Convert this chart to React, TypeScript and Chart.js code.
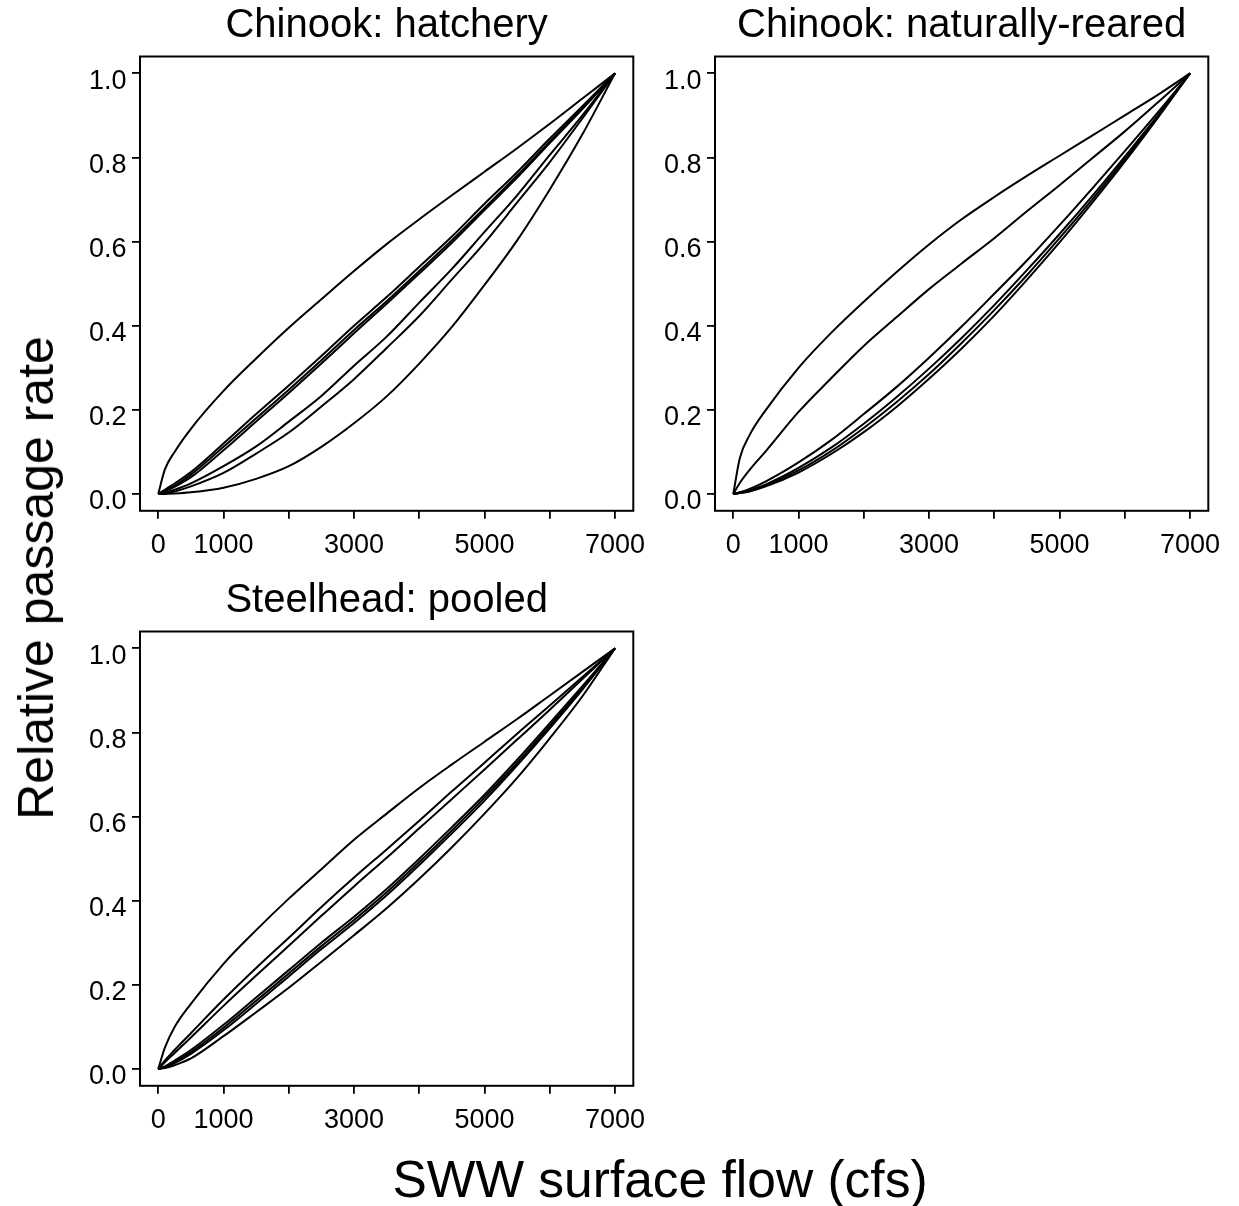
import React, { useEffect, useRef } from "react";
import { Chart, registerables } from "chart.js";

Chart.register(...registerables);

const FONT = "'Liberation Sans', Arial, Helvetica, sans-serif";

// x grid (SWW surface flow, cfs) shared by all curves
const flowCfs = [0, 100, 250, 500, 1000, 1500, 2000, 2500, 3000, 3500, 4000, 4500, 5000, 5500, 6000, 6500, 7000];
const xTickValues = [0, 1000, 2000, 3000, 4000, 5000, 6000, 7000];
const xTickLabels = [0, 1000, 3000, 5000, 7000];
const yTickValues = [0, 0.2, 0.4, 0.6, 0.8, 1.0];

// Chinook: hatchery
const hatchA = [0, 0.058, 0.1, 0.155, 0.245, 0.322, 0.395, 0.463, 0.53, 0.594, 0.653, 0.71, 0.766, 0.822, 0.88, 0.94, 1];
const hatchB1 = [0, 0.01, 0.025, 0.052, 0.12, 0.19, 0.258, 0.328, 0.4, 0.468, 0.54, 0.612, 0.69, 0.765, 0.845, 0.922, 1];
const hatchB2 = [0, 0.008, 0.02, 0.046, 0.112, 0.18, 0.248, 0.318, 0.39, 0.458, 0.53, 0.603, 0.68, 0.757, 0.838, 0.918, 1];
const hatchB3 = [0, 0.006, 0.017, 0.04, 0.104, 0.172, 0.24, 0.31, 0.382, 0.452, 0.524, 0.597, 0.675, 0.752, 0.834, 0.915, 1];
const hatchD = [0, 0.003, 0.01, 0.025, 0.066, 0.113, 0.172, 0.233, 0.305, 0.374, 0.455, 0.535, 0.623, 0.71, 0.806, 0.9, 1];
const hatchE = [0, 0.002, 0.006, 0.018, 0.05, 0.096, 0.146, 0.208, 0.273, 0.347, 0.423, 0.51, 0.597, 0.693, 0.789, 0.893, 1];
const hatchF = [0, 0, 0.001, 0.004, 0.015, 0.036, 0.066, 0.112, 0.168, 0.232, 0.31, 0.397, 0.497, 0.603, 0.724, 0.855, 1];

// Chinook: naturally-reared
const natT = [0, 0.085, 0.14, 0.2, 0.3, 0.383, 0.457, 0.527, 0.593, 0.653, 0.706, 0.756, 0.804, 0.852, 0.9, 0.948, 1];
const natS = [0, 0.026, 0.057, 0.102, 0.195, 0.275, 0.352, 0.42, 0.487, 0.548, 0.608, 0.672, 0.734, 0.798, 0.862, 0.93, 1];
const natL1 = [0, 0.004, 0.012, 0.03, 0.075, 0.128, 0.19, 0.254, 0.324, 0.398, 0.476, 0.555, 0.639, 0.726, 0.815, 0.906, 1];
const natL2 = [0, 0.003, 0.009, 0.023, 0.062, 0.11, 0.167, 0.23, 0.298, 0.371, 0.449, 0.532, 0.618, 0.708, 0.802, 0.899, 1];
const natL3 = [0, 0.002, 0.007, 0.02, 0.056, 0.102, 0.157, 0.218, 0.285, 0.359, 0.437, 0.52, 0.608, 0.7, 0.796, 0.896, 1];
const natL4 = [0, 0.002, 0.006, 0.018, 0.051, 0.095, 0.147, 0.207, 0.274, 0.346, 0.424, 0.509, 0.598, 0.692, 0.79, 0.893, 1];

// Steelhead: pooled
const stT = [0, 0.05, 0.1, 0.155, 0.25, 0.33, 0.405, 0.475, 0.545, 0.607, 0.668, 0.724, 0.778, 0.832, 0.888, 0.944, 1];
const stPa = [0, 0.02, 0.045, 0.085, 0.165, 0.24, 0.312, 0.385, 0.455, 0.522, 0.59, 0.66, 0.728, 0.797, 0.864, 0.932, 1];
const stPb = [0, 0.016, 0.038, 0.075, 0.15, 0.222, 0.293, 0.364, 0.434, 0.502, 0.572, 0.642, 0.712, 0.783, 0.854, 0.927, 1];
const stB1 = [0, 0.006, 0.02, 0.045, 0.105, 0.17, 0.235, 0.3, 0.362, 0.428, 0.5, 0.575, 0.652, 0.735, 0.822, 0.91, 1];
const stB2 = [0, 0.005, 0.016, 0.04, 0.098, 0.162, 0.227, 0.292, 0.354, 0.42, 0.492, 0.567, 0.645, 0.728, 0.816, 0.906, 1];
const stB3 = [0, 0.004, 0.014, 0.036, 0.092, 0.155, 0.22, 0.285, 0.347, 0.413, 0.485, 0.56, 0.638, 0.722, 0.81, 0.902, 1];
const stL = [0, 0.002, 0.009, 0.025, 0.078, 0.135, 0.193, 0.255, 0.318, 0.382, 0.452, 0.527, 0.607, 0.692, 0.786, 0.886, 1];

const panels = [
  { title: "Chinook: hatchery", left: 0, top: 0, series: [hatchA, hatchB1, hatchB2, hatchB3, hatchD, hatchE, hatchF] },
  { title: "Chinook: naturally-reared", left: 575, top: 0, series: [natT, natS, natL1, natL2, natL3, natL4] },
  { title: "Steelhead: pooled", left: 0, top: 575, series: [stT, stPa, stPb, stB1, stB2, stB3, stL] },
];

const CW = 660;
const CH = 565;

const boxPlugin = {
  id: "rbox",
  afterDraw(chart: any) {
    const { ctx, chartArea } = chart;
    ctx.save();
    ctx.strokeStyle = "#000";
    ctx.lineWidth = 2;
    ctx.strokeRect(chartArea.left, chartArea.top, chartArea.right - chartArea.left, chartArea.bottom - chartArea.top);
    ctx.restore();
  },
};

function Panel({ title, series, left, top }: { title: string; series: number[][]; left: number; top: number }) {
  const ref = useRef<HTMLCanvasElement | null>(null);
  useEffect(() => {
    if (!ref.current) return;
    const chart = new Chart(ref.current, {
      type: "line",
      data: {
        datasets: series.map((s) => ({
          data: flowCfs.map((x, i) => ({ x, y: s[i] })),
          borderColor: "#000",
          borderWidth: 2,
          pointRadius: 0,
          fill: false,
          cubicInterpolationMode: "monotone" as const,
        })),
      },
      options: {
        animation: false,
        responsive: false,
        devicePixelRatio: 1,
        layout: { padding: { left: 0, right: CW - 633.3, top: 0, bottom: 0 } },
        plugins: {
          legend: { display: false },
          tooltip: { enabled: false },
          title: {
            display: true,
            text: title,
            fullSize: false,
            color: "#000",
            font: { family: FONT, size: 40, weight: "normal", lineHeight: 1.2 },
            padding: { top: 1.6, bottom: 6.9 },
          },
        },
        scales: {
          x: {
            type: "linear",
            min: -280,
            max: 7280,
            afterBuildTicks: (s: any) => {
              s.ticks = xTickValues.map((v) => ({ value: v }));
            },
            afterFit: (s: any) => {
              s.height = 54.2;
            },
            grid: { display: true, drawOnChartArea: false, drawTicks: true, tickLength: 8, color: "#000", lineWidth: 1.8 },
            border: { display: false },
            ticks: {
              autoSkip: false,
              maxRotation: 0,
              minRotation: 0,
              padding: 10.5,
              color: "#000",
              font: { family: FONT, size: 27 },
              callback: (v: any) => (xTickLabels.includes(Number(v)) ? String(v) : ""),
            },
          },
          y: {
            type: "linear",
            min: -0.04,
            max: 1.04,
            afterBuildTicks: (s: any) => {
              s.ticks = yTickValues.map((v) => ({ value: v }));
            },
            afterFit: (s: any) => {
              s.width = 140;
            },
            grid: { display: true, drawOnChartArea: false, drawTicks: true, tickLength: 8, color: "#000", lineWidth: 1.8 },
            border: { display: false },
            ticks: {
              autoSkip: false,
              padding: 5.5,
              labelOffset: 8,
              color: "#000",
              font: { family: FONT, size: 27 },
              callback: (v: any) => Number(v).toFixed(1),
            },
          },
        },
      } as any,
      plugins: [boxPlugin],
    });
    return () => chart.destroy();
  }, [title, series]);
  return (
    <canvas
      ref={ref}
      width={CW}
      height={CH}
      style={{ position: "absolute", left, top, width: CW, height: CH }}
    />
  );
}

export default function App() {
  return (
    <div
      style={{
        position: "absolute",
        left: 0,
        top: 0,
        width: 1239,
        height: 1206,
        overflow: "hidden",
        background: "#fff",
      }}
    >
      {panels.map((p) => (
        <Panel key={p.title} title={p.title} series={p.series} left={p.left} top={p.top} />
      ))}
      <div
        style={{
          position: "absolute",
          left: 36,
          top: 578,
          transform: "translate(-50%, -50%) rotate(-90deg)",
          fontFamily: FONT,
          fontSize: 50,
          whiteSpace: "nowrap",
          color: "#000",
          lineHeight: "normal",
        }}
      >
        Relative passage rate
      </div>
      <div
        style={{
          position: "absolute",
          left: 660,
          top: 1179,
          transform: "translate(-50%, -50%)",
          fontFamily: FONT,
          fontSize: 51.5,
          whiteSpace: "nowrap",
          color: "#000",
          lineHeight: "normal",
        }}
      >
        SWW surface flow (cfs)
      </div>
    </div>
  );
}
